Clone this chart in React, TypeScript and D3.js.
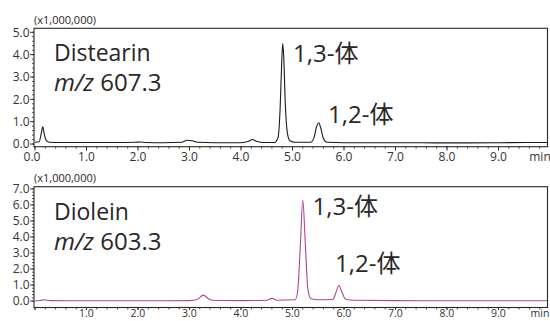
import * as d3 from "d3";
import React from "react";

// retention time (min) / intensity (x1,000,000)
const distearinTime = [0.0, 0.08, 0.12, 0.15, 0.18, 0.22, 0.28, 0.5, 1.0, 1.5, 1.95, 2.05, 2.15, 2.5, 2.85, 2.95, 3.05, 3.15, 3.5, 4.0, 4.15, 4.22, 4.3, 4.4, 4.65, 4.72, 4.76, 4.79, 4.81, 4.83, 4.86, 4.9, 4.95, 5.05, 5.35, 5.42, 5.47, 5.51, 5.55, 5.6, 5.67, 6.0, 7.0, 8.0, 9.0, 9.96];
const distearinValue = [0.08, 0.1, 0.45, 0.77, 0.45, 0.15, 0.08, 0.07, 0.07, 0.07, 0.08, 0.09, 0.07, 0.06, 0.08, 0.17, 0.15, 0.08, 0.06, 0.06, 0.12, 0.2, 0.12, 0.07, 0.07, 0.3, 1.6, 3.6, 4.5, 3.9, 1.8, 0.5, 0.15, 0.08, 0.08, 0.3, 0.8, 0.95, 0.7, 0.25, 0.08, 0.06, 0.06, 0.05, 0.06, 0.07];

const dioleinTime = [0.0, 0.1, 0.18, 0.3, 1.0, 2.0, 3.0, 3.15, 3.27, 3.38, 3.5, 4.0, 4.5, 4.6, 4.7, 5.05, 5.1, 5.15, 5.2, 5.25, 5.3, 5.36, 5.5, 5.78, 5.84, 5.9, 5.96, 6.03, 6.2, 7.0, 8.0, 9.96];
const dioleinValue = [0.02, 0.04, 0.08, 0.03, 0.02, 0.02, 0.03, 0.1, 0.37, 0.12, 0.04, 0.03, 0.05, 0.17, 0.05, 0.08, 0.6, 3.3, 6.3, 3.5, 0.7, 0.15, 0.08, 0.1, 0.5, 0.97, 0.55, 0.12, 0.05, 0.03, 0.02, 0.02];

const xMajorTicks = [0, 1, 2, 3, 4, 5, 6, 7, 8, 9];
const topYTicks = [0, 1, 2, 3, 4, 5];
const bottomYTicks = [0, 1, 2, 3, 4, 5, 6, 7];

const FONT = "'Open Sans', 'Noto Sans', 'Noto Sans CJK JP', sans-serif";
const INK = "#2a2626";

const frameLeft = 34;
const frameRight = 547.5;
const xScale = d3.scaleLinear().domain([0, 10]).range([35, 550]);

type PanelProps = {
  top: number;
  bottom: number;
  yDomain: [number, number];
  yTicks: number[];
  times: number[];
  values: number[];
  color: string;
  name: string;
  mz: string;
  showZero: boolean;
  labelGap: number;
  labelSize: number;
  tickLen: number;
  peak13: [number, number];
  peak12: [number, number];
  nameY: number;
};

const Panel = (p: PanelProps) => {
  const y = d3.scaleLinear().domain(p.yDomain).range([p.bottom, p.top]);
  const pts: [number, number][] = p.times.map((t, i) => [xScale(t), y(p.values[i])]);
  const line = d3.line().curve(d3.curveMonotoneX)(pts) || "";
  const yMax = p.yTicks[p.yTicks.length - 1];
  const yMinor = d3.range(0, yMax + 0.001, 0.2);
  const xMinor = d3.range(0, 9.95, 0.2);

  return (
    <g>
      <text x={frameLeft} y={p.top - 4.5} fontSize={11} fill={INK} fontFamily={FONT}>(x1,000,000)</text>
      {yMinor.map((v) => (
        <line key={"ym" + v} x1={frameLeft - 2} x2={frameLeft} y1={y(v)} y2={y(v)} stroke={INK} strokeWidth={0.8} />
      ))}
      {p.yTicks.map((v) => (
        <g key={"y" + v}>
          <line x1={frameLeft - 4} x2={frameLeft} y1={y(v)} y2={y(v)} stroke={INK} strokeWidth={0.9} />
          <text x={frameLeft - 4.5} y={y(v)} dy="0.35em" textAnchor="end" fontSize={12} fill="#333" fontFamily={FONT}>
            {v.toFixed(1)}
          </text>
        </g>
      ))}
      {xMinor.map((v) => (
        <line key={"xm" + v} x1={xScale(v)} x2={xScale(v)} y1={p.bottom} y2={p.bottom + 2} stroke={INK} strokeWidth={0.8} />
      ))}
      {xMajorTicks.map((v) => (
        <g key={"x" + v}>
          <line x1={xScale(v)} x2={xScale(v)} y1={p.bottom} y2={p.bottom + p.tickLen} stroke={INK} strokeWidth={0.9} />
          {(v > 0 || p.showZero) && (
            <text x={v === 0 ? xScale(v) - 3 : xScale(v)} y={p.bottom + p.labelGap} dy="0.35em" textAnchor="middle" fontSize={p.labelSize} fill="#333" fontFamily={FONT}>
              {v.toFixed(1)}
            </text>
          )}
        </g>
      ))}
      <text x={540} y={p.bottom + p.labelGap} dy="0.35em" textAnchor="middle" fontSize={p.labelSize} fill="#333" fontFamily={FONT}>min</text>
      <path d={line} fill="none" stroke={p.color} strokeWidth={1.1} />
      <rect x={frameLeft} y={p.top} width={frameRight - frameLeft} height={p.bottom - p.top} fill="none" stroke={INK} strokeWidth={1.1} />
      <text x={54} y={p.nameY} fontSize={23} fill={INK} fontFamily={FONT}>{p.name}</text>
      <text x={54} y={p.nameY + 30} fontSize={24} fill={INK} fontFamily={FONT}>
        <tspan fontStyle="italic">m/z</tspan> {p.mz}
      </text>
      <text x={p.peak13[0]} y={p.peak13[1]} fontSize={24} fill={INK} fontFamily={FONT}>1,3-体</text>
      <text x={p.peak12[0]} y={p.peak12[1]} fontSize={24} fill={INK} fontFamily={FONT}>1,2-体</text>
    </g>
  );
};

export default function App() {
  return (
    <svg width={550} height={321} style={{ position: "absolute", left: 0, top: 0, background: "#fff" }}>
      <Panel
        top={28.3}
        bottom={146.7}
        yDomain={[-0.12, 5.18]}
        yTicks={topYTicks}
        times={distearinTime}
        values={distearinValue}
        color="#1a1a1a"
        name="Distearin"
        mz="607.3"
        showZero={true}
        labelGap={10}
        labelSize={12}
        tickLen={4}
        peak13={[293, 61.5]}
        peak12={[328, 123]}
        nameY={61}
      />
      <Panel
        top={186.7}
        bottom={307.5}
        yDomain={[-0.4, 7.14]}
        yTicks={bottomYTicks}
        times={dioleinTime}
        values={dioleinValue}
        color="#b0449c"
        name="Diolein"
        mz="603.3"
        showZero={false}
        labelGap={6}
        labelSize={10.5}
        tickLen={2.5}
        peak13={[312.5, 215]}
        peak12={[335, 271.5]}
        nameY={220}
      />
    </svg>
  );
}
